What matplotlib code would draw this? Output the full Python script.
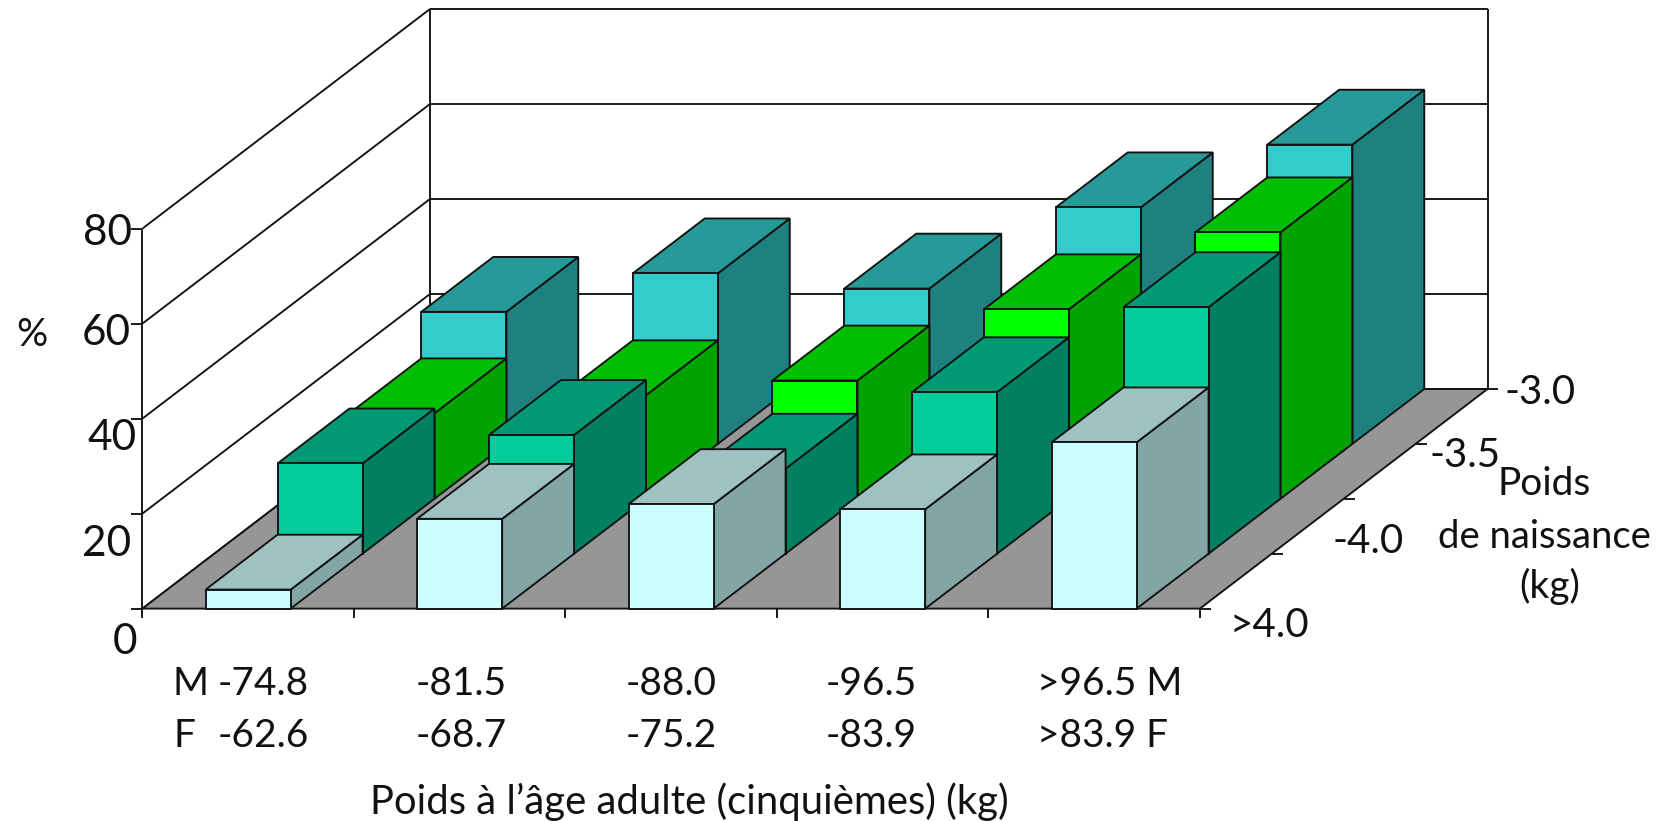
import matplotlib
matplotlib.use("Agg")
import matplotlib.pyplot as plt

plt.rcParams['font.family'] = ['Lato', 'DejaVu Sans']

W, H = 1670, 821
# values: percent per adult-weight fifth, one list per birth-weight row (front to back)
row_front = [4.0, 18.9, 22.0, 20.9, 35.0]     # >4.0
row_second = [19.0, 25.0, 17.9, 34.0, 51.9]   # -4.0
row_third = [18.0, 21.8, 24.9, 39.9, 56.1]    # -3.5
row_back = [27.8, 35.9, 32.7, 49.8, 63.0]     # -3.0
rows = [row_front, row_second, row_third, row_back]
yticks = [0, 20, 40, 60, 80]
line1 = ["-74.8", "-81.5", "-88.0", "-96.5", ">96.5 M"]
line2 = ["-62.6", "-68.7", "-75.2", "-83.9", ">83.9 F"]
depth_labels = [">4.0", "-4.0", "-3.5", "-3.0"]
colors = [("#CCFFFF", "#9EC2C2", "#82A6A6"),
          ("#00CC99", "#009973", "#008060"),
          ("#00FF00", "#00BF00", "#00A300"),
          ("#33CCCC", "#269999", "#1F8080")]

# scales: one category = 211.5 px, 20 % = 95 px, one depth row = (71.9, 54.9) px
PX_X, PX_Y = 211.5, 95.0 / 20
X0, Y0 = 142.4, 608.6
DX, DY = 71.9 / PX_X, 54.9 / PX_Y
BAR = 0.402
NC, ND, ZMAX = len(row_front), len(rows), 80

fig = plt.figure(figsize=(W / 100, H / 100), dpi=100)
ax = fig.add_axes([0, 0, 1, 1])
ax.set_xlim(-X0 / PX_X, (W - X0) / PX_X)
ax.set_ylim(-(H - Y0) / PX_Y, Y0 / PX_Y)
ax.set_axis_off()

def P(x, d, z):
    return x + d * DX, z + d * DY

LW = 1.35
EC = "#111111"
z = [1]
def poly(pts, fc):
    xs, ys = zip(*pts)
    ax.fill(xs, ys, facecolor=fc, edgecolor=EC, linewidth=LW, joinstyle="miter", zorder=z[0])
    z[0] += 1
def seg(a, b):
    ax.plot([a[0], b[0]], [a[1], b[1]], color=EC, lw=LW, solid_capstyle="butt", zorder=z[0])

# walls and gridlines
for v in yticks:
    seg(P(0, 0, v), P(0, ND, v))
    seg(P(0, ND, v), P(NC, ND, v))
    seg(P(0, 0, v), P(-0.052, 0, v))
seg(P(0, 0, 0), P(0, 0, ZMAX))
seg(P(0, ND, 0), P(0, ND, ZMAX))
seg(P(NC, ND, 0), P(NC, ND, ZMAX))
z[0] += 1

# floor
poly([P(0, 0, 0), P(NC, 0, 0), P(NC, ND, 0), P(0, ND, 0)], "#969696")

# axis ticks
tick_down = 9 / PX_Y
for i in range(NC + 1):
    seg(P(i, 0, 0), P(i, 0, -tick_down))
for d in range(ND + 1):
    a = P(NC, d, 0)
    seg(a, (a[0] + 0.052, a[1]))
z[0] += 1

# bars, back row first
for d in range(ND - 1, -1, -1):
    front, top, side = colors[d]
    for i, v in enumerate(rows[d]):
        x0, x1 = i + 0.5 - BAR / 2, i + 0.5 + BAR / 2
        poly([P(x1, d, 0), P(x1, d + 1, 0), P(x1, d + 1, v), P(x1, d, v)], side)
        poly([P(x0, d, v), P(x1, d, v), P(x1, d + 1, v), P(x0, d + 1, v)], top)
        poly([P(x0, d, 0), P(x1, d, 0), P(x1, d, v), P(x0, d, v)], front)

FS = 28
def T(px, py, s, ha="center", fs=FS):
    fig.text(px / W, 1 - py / H, s, ha=ha, va="center", fontsize=fs, color="#111111")

S = 1.065
for v, (a, b) in zip(yticks, [(117, 603), (100, 511), (105, 411), (100, 313), (101, 219)]):
    T(a * S, b * S, str(v), fs=30.5)
T(30 * S, 315 * S, "%")
T(162 * S, 642 * S, "M", "left")
T(163 * S, 691 * S, "F", "left")
for s1, s2, cx in zip(line1[:4], line2[:4], [247, 433, 630, 818]):
    T(cx * S, 642 * S, s1)
    T(cx * S, 691 * S, s2)
T(974 * S, 642 * S, line1[4], "left")
T(974 * S, 691 * S, line2[4], "left")
T(647 * S, 753 * S, "Poids à l’âge adulte (cinquièmes) (kg)", fs=28.8)
for s, (a, b) in zip(depth_labels, [(1192, 587), (1285, 508), (1376, 428), (1446, 369)]):
    T(a * S, b * S, s, fs=29)
T(1450 * S, 454 * S, "Poids")
T(1450 * S, 504 * S, "de naissance", fs=27.5)
T(1455 * S, 551 * S, "(kg)")

fig.savefig("out.png", dpi=100)
